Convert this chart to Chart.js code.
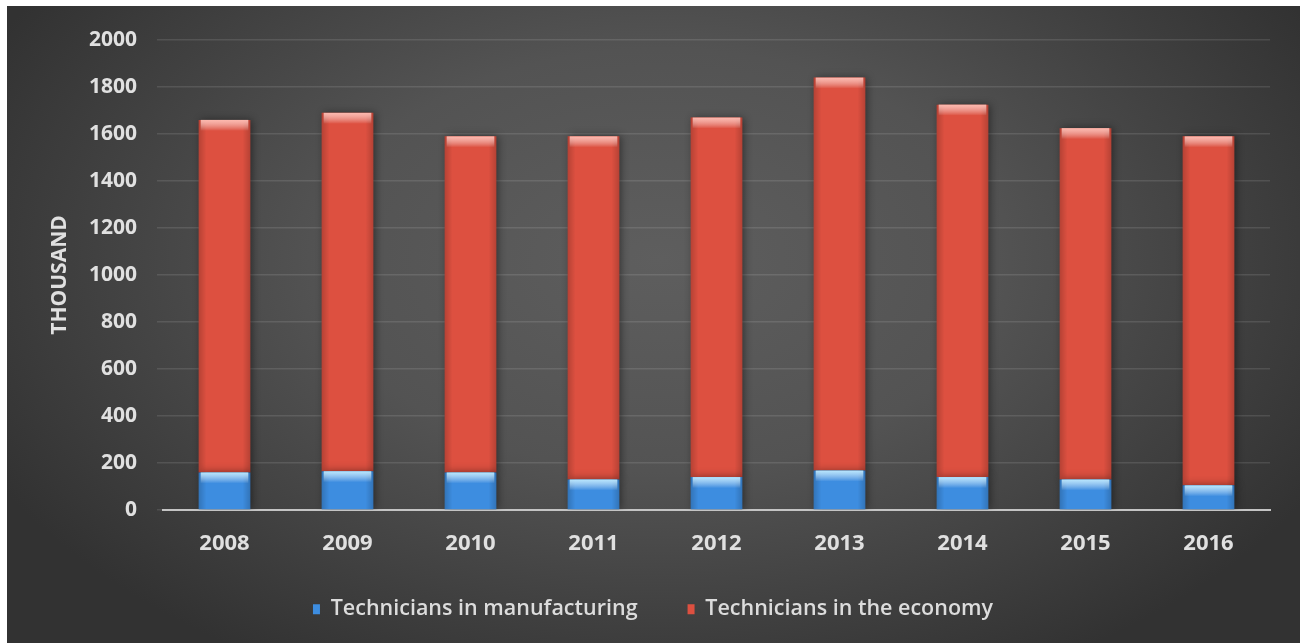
<!DOCTYPE html>
<html>
<head>
<meta charset="utf-8">
<script src="https://cdn.jsdelivr.net/npm/chart.js@4.4.1/dist/chart.umd.min.js"></script>
<style>
html,body{margin:0;padding:0;background:#fff;}
#wrap{width:1300px;height:643px;position:relative;}
</style>
</head>
<body>
<div id="wrap"><canvas id="c" width="1300" height="643"></canvas></div>
<script>
const years = ['2008','2009','2010','2011','2012','2013','2014','2015','2016'];
const manufacturing = [160,165,160,130,140,168,140,130,105];
const economy = [1500,1525,1430,1460,1530,1672,1585,1495,1485];
const yTicks = [0,200,400,600,800,1000,1200,1400,1600,1800,2000];
const seriesNames = ['Technicians in manufacturing','Technicians in the economy'];
const FONT = '"Open Sans", Lato, sans-serif';

const bgPlugin = {
  id: 'bg',
  beforeDraw(chart) {
    const ctx = chart.ctx;
    const W = chart.width, H = chart.height;
    ctx.save();
    ctx.fillStyle = '#ffffff';
    ctx.fillRect(0, 0, W, H);
    ctx.beginPath();
    ctx.rect(7, 6, W - 7, H - 6);
    ctx.clip();
    ctx.translate(660, 260);
    ctx.scale(1.6, 1);
    const g = ctx.createRadialGradient(0, 0, 0, 0, 0, 470);
    g.addColorStop(0, '#5e5e5e');
    g.addColorStop(0.45, '#535353');
    g.addColorStop(1, '#323232');
    ctx.fillStyle = g;
    ctx.fillRect(-700, -400, 1400, 800);
    ctx.restore();
  },
  afterLayout(chart) {
    const lg = chart.legend;
    if (lg) { lg.left += 18; lg.right += 18; lg.top -= 11.5; lg.bottom -= 11.5; }
  }
};

const barFx = {
  id: 'barfx',
  beforeDatasetsDraw(chart) {
    const ctx = chart.ctx;
    ctx.save();
    ctx.shadowColor = 'rgba(0,0,0,0.45)';
    ctx.shadowBlur = 8;
    ctx.shadowOffsetX = 2;
    ctx.shadowOffsetY = 0;
  },
  afterDatasetsDraw(chart) {
    const ctx = chart.ctx;
    ctx.restore();
    ctx.save();
    const lights = ['rgba(190,235,255,0.95)', 'rgba(255,190,180,0.95)'];
    chart.data.datasets.forEach((ds, di) => {
      const meta = chart.getDatasetMeta(di);
      meta.data.forEach(el => {
        const p = el.getProps(['x','y','base','width'], true);
        const l = p.x - p.width / 2, r = p.x + p.width / 2;
        const top = Math.min(p.y, p.base), bot = Math.max(p.y, p.base);
        const hg = ctx.createLinearGradient(l, 0, r, 0);
        hg.addColorStop(0, 'rgba(0,0,0,0.18)');
        hg.addColorStop(0.15, 'rgba(0,0,0,0)');
        hg.addColorStop(0.85, 'rgba(0,0,0,0)');
        hg.addColorStop(1, 'rgba(0,0,0,0.18)');
        ctx.fillStyle = hg;
        ctx.fillRect(l, top, p.width, bot - top);
        const vg = ctx.createLinearGradient(0, top, 0, top + 11);
        vg.addColorStop(0, lights[di]);
        vg.addColorStop(1, 'rgba(255,255,255,0)');
        ctx.fillStyle = vg;
        ctx.fillRect(l + 2, top, p.width - 4, 11);
      });
    });
    ctx.restore();
  }
};

new Chart(document.getElementById('c'), {
  type: 'bar',
  data: {
    labels: years,
    datasets: [
      { label: seriesNames[0], data: manufacturing, backgroundColor: '#3d8de0', borderWidth: 0 },
      { label: seriesNames[1], data: economy, backgroundColor: '#dd5040', borderWidth: 0 }
    ]
  },
  options: {
    responsive: false,
    animation: false,
    layout: { padding: { left: 0, right: 30, top: 40, bottom: 1.5 } },
    datasets: { bar: { barPercentage: 0.42, categoryPercentage: 1 } },
    plugins: {
      tooltip: { enabled: false },
      legend: {
        position: 'bottom',
        labels: {
          color: '#dcdcdc',
          font: { family: FONT, size: 21.5, weight: '600' },
          boxWidth: 7,
          boxHeight: 10,
          padding: 50
        }
      }
    },
    scales: {
      x: {
        stacked: true,
        grid: { display: false, drawTicks: false },
        border: { display: true, color: '#c4c4c4', width: 2 },
        ticks: { color: '#e0e0e0', font: { family: FONT, size: 22, weight: 'bold' }, padding: 21 },
        afterFit(s) { s.height = 50; }
      },
      y: {
        stacked: true,
        min: 0, max: 2000,
        afterBuildTicks(s) { s.ticks = yTicks.map(v => ({ value: v })); },
        grid: { color: 'rgba(255,255,255,0.11)', lineWidth: 1.5, drawTicks: true, tickLength: 6 },
        border: { display: false },
        ticks: { color: '#e0e0e0', font: { family: FONT, size: 21, weight: 'bold' }, padding: 20, callback: v => String(v) },
        title: { display: true, text: 'THOUSAND', color: '#e0e0e0', font: { family: FONT, size: 21, weight: 'bold' }, padding: { top: 47, bottom: 0 } },
        afterFit(s) { s.width = 163; }
      }
    }
  },
  plugins: [bgPlugin, barFx]
});
</script>
</body>
</html>
